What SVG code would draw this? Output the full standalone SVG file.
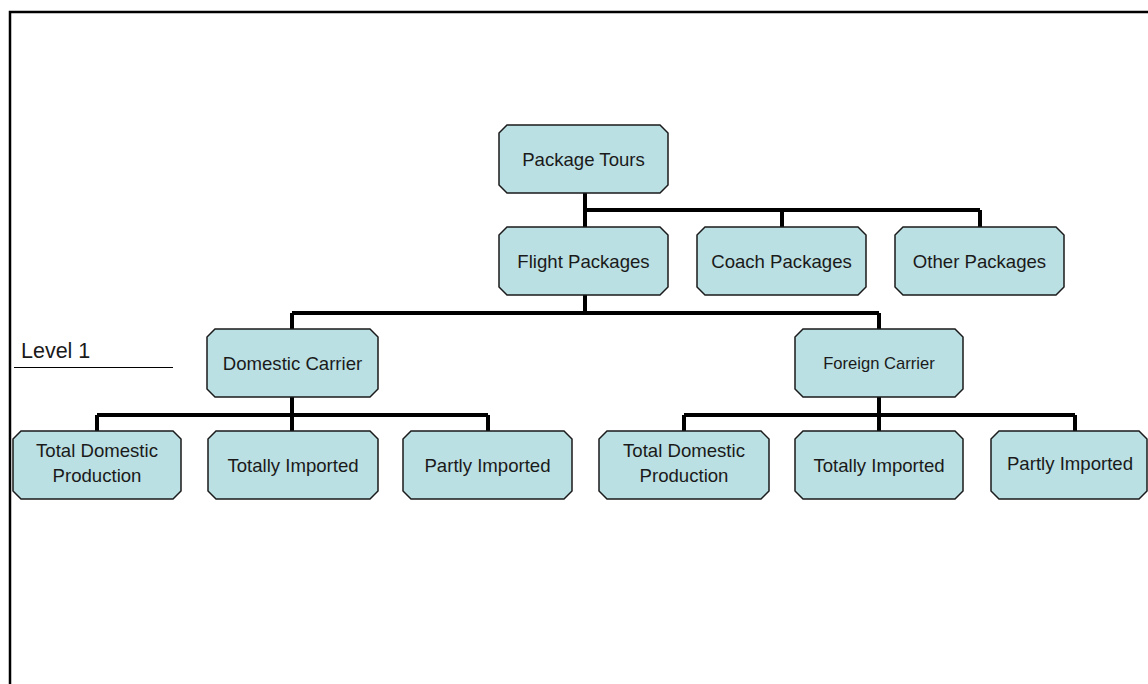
<svg xmlns="http://www.w3.org/2000/svg" width="1148" height="684" viewBox="0 0 1148 684">
<style>
.box{fill:#BBE0E3;stroke:#1a1a1a;stroke-width:1.5}
.t{font-family:"Liberation Sans",Arial,sans-serif;font-size:18.6px;fill:#1a1a1a;text-anchor:middle}
.small{font-size:16.6px}
.conn{fill:none;stroke:#000;stroke-width:4;stroke-linejoin:miter;stroke-linecap:butt}
</style>
<rect x="0" y="0" width="1148" height="684" fill="#fff"/>
<polyline points="10,684 10,12 1148,12" fill="none" stroke="#000" stroke-width="2.5"/>
<g id="level-label">
<text x="21" y="358" font-family="Liberation Sans, Arial, sans-serif" font-size="21.5" fill="#1a1a1a">Level 1</text>
<line x1="14" y1="367.5" x2="173" y2="367.5" stroke="#000" stroke-width="1"/>
</g>
<g id="connectors" class="conn">
<path d="M585,193 V227 M585,210 H980 M782,210 V227 M980,210 V227"/>
<path d="M585,295 V313 M292,313 H879 M292,313 V329 M879,313 V329"/>
<path d="M292,397 V431 M97,415 H488 M97,415 V431 M488,415 V431"/>
<path d="M879,397 V431 M684,415 H1075 M684,415 V431 M1075,415 V431"/>
</g>
<g id="n-package-tours"><path class="box" d="M507,125 H660 L668,133 V185 L660,193 H507 L499,185 V133 Z"/><text class="t" x="583.5" y="165.5">Package Tours</text></g>
<g id="n-flight"><path class="box" d="M507,227 H660 L668,235 V287 L660,295 H507 L499,287 V235 Z"/><text class="t" x="583.5" y="267.5">Flight Packages</text></g>
<g id="n-coach"><path class="box" d="M705,227 H858 L866,235 V287 L858,295 H705 L697,287 V235 Z"/><text class="t" x="781.5" y="267.5">Coach Packages</text></g>
<g id="n-other"><path class="box" d="M903,227 H1056 L1064,235 V287 L1056,295 H903 L895,287 V235 Z"/><text class="t" x="979.5" y="267.5">Other Packages</text></g>
<g id="n-domestic"><path class="box" d="M215,329 H370 L378,337 V389 L370,397 H215 L207,389 V337 Z"/><text class="t" x="292.5" y="369.5">Domestic Carrier</text></g>
<g id="n-foreign"><path class="box" d="M803,329 H955 L963,337 V389 L955,397 H803 L795,389 V337 Z"/><text class="t small" x="879" y="369">Foreign Carrier</text></g>
<g id="n-tdp-l"><path class="box" d="M21,431 H173 L181,439 V491 L173,499 H21 L13,491 V439 Z"/><text class="t" x="97" y="457">Total Domestic</text><text class="t" x="97" y="482">Production</text></g>
<g id="n-ti-l"><path class="box" d="M216,431 H370 L378,439 V491 L370,499 H216 L208,491 V439 Z"/><text class="t" x="293" y="471.5">Totally Imported</text></g>
<g id="n-pi-l"><path class="box" d="M411,431 H564 L572,439 V491 L564,499 H411 L403,491 V439 Z"/><text class="t" x="487.5" y="471.5">Partly Imported</text></g>
<g id="n-tdp-r"><path class="box" d="M607,431 H761 L769,439 V491 L761,499 H607 L599,491 V439 Z"/><text class="t" x="684" y="457">Total Domestic</text><text class="t" x="684" y="482">Production</text></g>
<g id="n-ti-r"><path class="box" d="M803,431 H955 L963,439 V491 L955,499 H803 L795,491 V439 Z"/><text class="t" x="879" y="471.5">Totally Imported</text></g>
<g id="n-pi-r"><path class="box" d="M999,431 H1139 L1147,439 V491 L1139,499 H999 L991,491 V439 Z"/><text class="t" x="1070" y="469.5">Partly Imported</text></g>
</svg>
